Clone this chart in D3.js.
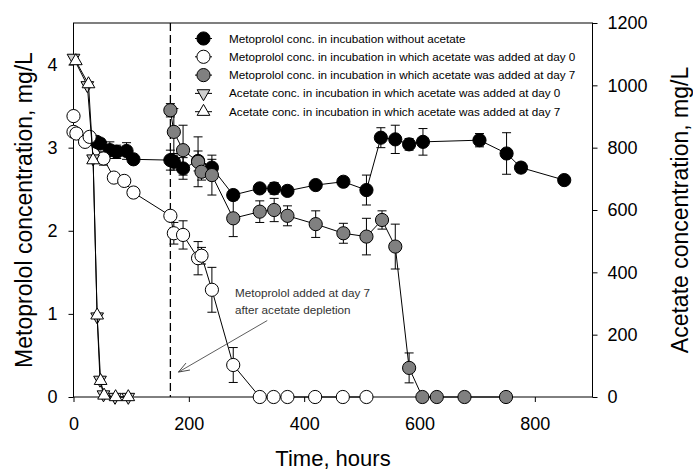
<!DOCTYPE html>
<html>
<head>
<meta charset="utf-8">
<script src="https://cdn.jsdelivr.net/npm/d3@7"></script>
<style>
  html, body { margin: 0; padding: 0; background: #fff; }
  svg { display: block; font-family: "Liberation Sans", Arial, sans-serif; }
</style>
</head>
<body>
<svg id="chart" width="693" height="473"></svg>
<script>
// Metoprolol (left axis, mg/L) — incubation without acetate
const tBlack   = [40, 46, 63, 75, 92, 104, 168, 174, 190, 216, 240, 277, 323, 348, 371, 420, 468, 508, 533, 558, 582, 606, 704, 751, 776, 851];
const vBlack   = [3.07, 3.05, 2.97, 2.95, 2.96, 2.86, 2.85, 2.83, 2.75, 2.84, 2.76, 2.43, 2.51, 2.51, 2.48, 2.55, 2.59, 2.49, 3.12, 3.10, 3.04, 3.07, 3.09, 2.93, 2.76, 2.61];
const eBlack   = [0.05, 0.06, 0.10, 0.08, 0.10, 0.05, 0.12, 0.10, 0.13, 0.12, 0.10, 0.05, 0.05, 0.07, 0.05, 0.04, 0.03, 0.18, 0.12, 0.17, 0.07, 0.16, 0.08, 0.25, 0.06, 0];

// Metoprolol — acetate added at day 0
const tOpen    = [0, 0, 5, 20, 28, 52, 70, 88, 104, 168, 174, 190, 216, 222, 240, 277, 323, 347, 371, 419, 467, 508];
const vOpen    = [3.38, 3.19, 3.17, 3.07, 3.13, 2.87, 2.64, 2.60, 2.46, 2.18, 1.97, 1.95, 1.67, 1.70, 1.29, 0.385, 0, 0, 0, 0, 0, 0];
const eOpen    = [0, 0, 0, 0, 0, 0.08, 0, 0, 0, 0, 0.13, 0.17, 0.20, 0.10, 0.27, 0.21, 0, 0, 0, 0, 0, 0];

// Metoprolol — acetate added at day 7
const tGray    = [168, 174, 190, 216, 222, 240, 277, 323, 348, 371, 420, 468, 508, 535, 558, 582, 605, 630, 678, 750];
const vGray    = [3.45, 3.19, 2.97, 2.83, 2.71, 2.67, 2.15, 2.23, 2.25, 2.18, 2.08, 1.97, 1.93, 2.13, 1.81, 0.35, 0, 0, 0, 0];
const eGray    = [0.08, 0.28, 0.30, 0.30, 0.10, 0.24, 0.22, 0.13, 0.14, 0.12, 0.16, 0.12, 0.22, 0.11, 0.27, 0.18, 0, 0, 0, 0];

// Acetate (right axis, mg/L)
const tAcet0   = [0, 24, 34, 41, 46, 52, 72, 95];
const vAcet0   = [1088, 1000, 765, 258, 55, 8, 0, 0];
const tAcet7   = [4, 26, 34, 41, 47, 53, 73, 95];
const vAcet7   = [1078, 1004, 760, 262, 52, 5, 0, 0];

const xTicks   = [0, 200, 400, 600, 800];
const yLTicks  = [0, 1, 2, 3, 4];
const yRTicks  = [0, 200, 400, 600, 800, 1000, 1200];

const legendLabels = [
  "Metoprolol conc. in incubation without acetate",
  "Metoprolol conc. in incubation in which acetate was added at day 0",
  "Metoprolol conc. in incubation in which acetate was added at day 7",
  "Acetate conc. in incubation in which acetate was added at day 0",
  "Acetate conc. in incubation in which acetate was added at day 7"
];

const svg = d3.select("#chart");
const L = 73.5, R = 592.5, T = 23, B = 397;

const x  = d3.scaleLinear().domain([0, 900]).range([L, R]);
const yL = d3.scaleLinear().domain([0, 4.5]).range([B, T]);
const yR = d3.scaleLinear().domain([0, 1200]).range([B, T]);

const tickFont = "18px";

// axes
const gx = svg.append("g").attr("transform", `translate(0,${B})`)
  .call(d3.axisBottom(x).tickValues(xTicks).tickSize(5).tickPadding(15).tickFormat(d3.format("d")));
const gl = svg.append("g").attr("transform", `translate(${L},0)`)
  .call(d3.axisLeft(yL).tickValues(yLTicks).tickSize(5).tickPadding(11).tickFormat(d3.format("d")));
const gr = svg.append("g").attr("transform", `translate(${R},0)`)
  .call(d3.axisRight(yR).tickValues(yRTicks).tickSize(5).tickPadding(10).tickFormat(d3.format("d")));
[gx, gl, gr].forEach(g => {
  g.select(".domain").remove();
  g.selectAll("line").attr("stroke", "#000").attr("stroke-width", 1);
  g.selectAll("text").attr("font-size", tickFont).attr("fill", "#000")
    .attr("font-family", "Liberation Sans, Arial, sans-serif");
});

// frame
svg.append("rect").attr("x", L).attr("y", T).attr("width", R - L).attr("height", B - T)
  .attr("fill", "none").attr("stroke", "#000").attr("stroke-width", 1);

// axis titles
svg.append("text").attr("x", 333).attr("y", 466).attr("text-anchor", "middle")
  .attr("font-size", "22px").text("Time, hours");
svg.append("text").attr("transform", `translate(32,${(T + B) / 2}) rotate(-90)`)
  .attr("text-anchor", "middle").attr("font-size", "23px").text("Metoprolol concentration, mg/L");
svg.append("text").attr("transform", `translate(688,${(T + B) / 2}) rotate(-90)`)
  .attr("text-anchor", "middle").attr("font-size", "23px").text("Acetate concentration, mg/L");

// day-7 marker line
svg.append("line").attr("x1", x(168)).attr("x2", x(168)).attr("y1", T).attr("y2", B)
  .attr("stroke", "#000").attr("stroke-width", 1.3).attr("stroke-dasharray", "8,4");

const R_CIRC = 6.6;
const triSize = 70;

function zip(ts, vs, es) { return ts.map((t, i) => ({ t, v: vs[i], e: es ? es[i] : 0 })); }

function drawSeries(data, yScale, marker) {
  const g = svg.append("g");
  g.append("path").datum(data)
    .attr("d", d3.line().x(d => x(d.t)).y(d => yScale(d.v)))
    .attr("fill", "none").attr("stroke", "#000").attr("stroke-width", 1);
  const eb = g.selectAll(".eb").data(data.filter(d => d.e > 0)).join("g");
  eb.append("line").attr("x1", d => x(d.t)).attr("x2", d => x(d.t))
    .attr("y1", d => yScale(d.v - d.e)).attr("y2", d => yScale(d.v + d.e))
    .attr("stroke", "#000").attr("stroke-width", 1);
  [-1, 1].forEach(s => {
    eb.append("line").attr("x1", d => x(d.t) - 4.5).attr("x2", d => x(d.t) + 4.5)
      .attr("y1", d => yScale(d.v + s * d.e)).attr("y2", d => yScale(d.v + s * d.e))
      .attr("stroke", "#000").attr("stroke-width", 1);
  });
  marker(g.selectAll(".m").data(data).join("g")
    .attr("transform", d => `translate(${x(d.t)},${yScale(d.v)})`));
}

const circle = fill => sel => sel.append("circle").attr("r", R_CIRC)
  .attr("fill", fill).attr("stroke", "#000").attr("stroke-width", 1);
const tri = (fill, down) => sel => sel.append("path")
  .attr("d", d3.symbol(d3.symbolTriangle, triSize)())
  .attr("transform", down ? "rotate(180)" : null)
  .attr("fill", fill).attr("stroke", "#000").attr("stroke-width", 1);

drawSeries(zip(tBlack, vBlack, eBlack), yL, circle("#000"));
drawSeries(zip(tOpen, vOpen, eOpen), yL, circle("#fff"));
drawSeries(zip(tGray, vGray, eGray), yL, circle("#808080"));
drawSeries(zip(tAcet0, vAcet0, null), yR, tri("#cfcfcf", true));
drawSeries(zip(tAcet7, vAcet7, null), yR, tri("#fff", false));

// legend
const legendMarkers = [circle("#000"), circle("#fff"), circle("#808080"), tri("#cfcfcf", true), tri("#fff", false)];
const lg = svg.append("g");
legendLabels.forEach((lab, i) => {
  const cy = 38.5 + i * 18.3;
  lg.append("line").attr("x1", 195).attr("x2", 212).attr("y1", cy).attr("y2", cy)
    .attr("stroke", "#000").attr("stroke-width", 1);
  legendMarkers[i](lg.append("g").attr("transform", `translate(203.5,${cy})`));
  lg.append("text").attr("x", 229).attr("y", cy + 4).attr("font-size", "11.7px").attr("fill", "#000").text(lab);
});

// annotation with open arrowhead
const tipT = 182, tipV = 0.3, tailT = 336, tailV = 0.92;
svg.append("defs").append("marker").attr("id", "openArrow")
  .attr("viewBox", "-12 -6 14 12").attr("refX", 0).attr("refY", 0)
  .attr("markerWidth", 14).attr("markerHeight", 12).attr("markerUnits", "userSpaceOnUse")
  .attr("orient", "auto")
  .append("path").attr("d", "M-11,-4 L0,0 L-11,4").attr("fill", "none")
  .attr("stroke", "#333").attr("stroke-width", 0.8);
svg.append("line").attr("x1", x(tailT)).attr("y1", yL(tailV)).attr("x2", x(tipT)).attr("y2", yL(tipV))
  .attr("stroke", "#333").attr("stroke-width", 0.8).attr("marker-end", "url(#openArrow)");
const note = svg.append("text").attr("font-size", "11.7px").attr("fill", "#333");
note.append("tspan").attr("x", x(280)).attr("y", yL(1.25) + 4).text("Metoprolol added at day 7");
note.append("tspan").attr("x", x(280)).attr("y", yL(1.25) + 20.5).text("after acetate depletion");
</script>
</body>
</html>
